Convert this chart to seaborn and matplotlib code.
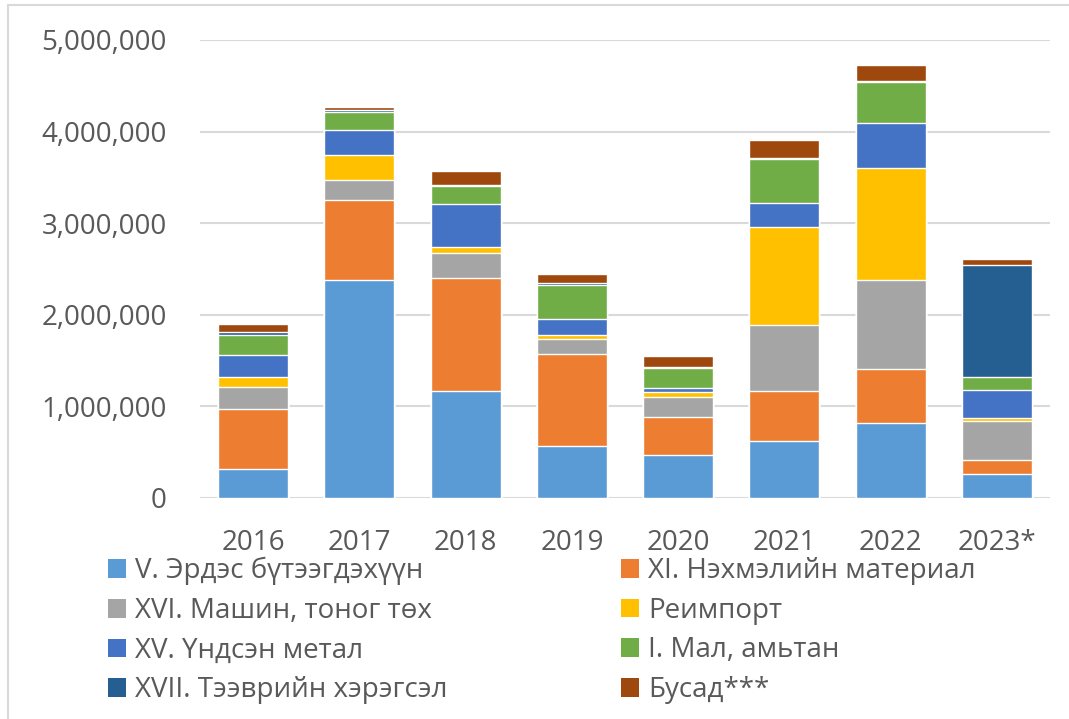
import numpy as np
import pandas as pd
import seaborn as sns
import matplotlib.pyplot as plt
from matplotlib.patches import Patch
from matplotlib.lines import Line2D
from matplotlib.ticker import FuncFormatter

years = ['2016', '2017', '2018', '2019', '2020', '2021', '2022', '2023*']

# бүлэг тус бүрийн импорт (мян. ам.доллар)
erdes = [316000, 2385000, 1167000, 567000, 469000, 625000, 818000, 258000]
nekhmel = [655000, 870000, 1233000, 1008000, 418000, 546000, 589000, 157000]
mashin = [240000, 221000, 276000, 156000, 211000, 713000, 978000, 429000]
reimport = [109000, 266000, 62000, 51000, 58000, 1076000, 1219000, 32000]
metal = [240000, 280000, 473000, 171000, 40000, 265000, 491000, 306000]
mal = [222000, 196000, 196000, 374000, 222000, 473000, 447000, 138000]
teever = [29000, 18000, 15000, 18000, 15000, 15000, 11000, 1222000]
busad = [84000, 29000, 153000, 99000, 116000, 200000, 171000, 65000]

names = ['V. Эрдэс бүтээгдэхүүн', 'XI. Нэхмэлийн материал', 'XVI. Машин, тоног төх',
         'Реимпорт', 'XV. Үндсэн метал', 'I. Мал, амьтан',
         'XVII. Тээврийн хэрэгсэл', 'Бусад***']
colors = ['#5B9BD5', '#ED7D31', '#A5A5A5', '#FFC000', '#4472C4', '#70AD47',
          '#255E91', '#9E480E']

tabela = pd.DataFrame(dict(zip(names, [erdes, nekhmel, mashin, reimport, metal,
                                       mal, teever, busad])), index=years)
acumulado = tabela.cumsum(axis=1)

sns.set_style('white')
plt.rcParams['font.family'] = ['Open Sans', 'DejaVu Sans']
cinza = '#595959'

fig = plt.figure(figsize=(10.69, 7.19), dpi=100)
ax = fig.add_axes([200 / 1069, 1 - 498 / 719, 850 / 1069, 458 / 719])

# barras empilhadas: do total para baixo, cada uma por cima da anterior
for nome, cor in reversed(list(zip(names, colors))):
    sns.barplot(x=years, y=acumulado[nome].values, color=cor, saturation=1,
                width=0.66, errorbar=None, ax=ax, zorder=3)

ax.set_xlim(-0.5, 7.5)
ax.set_ylim(0, 5000000)
ax.set_yticks(np.arange(0, 5000001, 1000000))
ax.yaxis.set_major_formatter(FuncFormatter(lambda v, p: f'{int(v):,}'))
ax.grid(axis='y', color='#D9D9D9', lw=1.5, zorder=0)
ax.set_axisbelow(True)
ax.set_xlabel('')
ax.set_ylabel('')
sns.despine(ax=ax, left=True, bottom=True)
ax.tick_params(axis='both', length=0, labelsize=20, labelcolor=cinza)
ax.tick_params(axis='y', pad=24)
ax.tick_params(axis='x', pad=22)

handles = [Patch(facecolor=c, edgecolor='none') for c in colors]
left_idx = [0, 2, 4, 6]
right_idx = [1, 3, 5, 7]
for idx, x0 in [(left_idx, 108), (right_idx, 621)]:
    leg = fig.legend([handles[i] for i in idx], [names[i] for i in idx],
                     loc='upper left', bbox_to_anchor=(x0 / 1069, 1 - 557 / 719),
                     frameon=False, fontsize=20, handlelength=0.65,
                     handleheight=0.65, handletextpad=0.33, labelspacing=0.42,
                     borderpad=0, borderaxespad=0)
    for t in leg.get_texts():
        t.set_color(cinza)

# moldura cinza
fig.add_artist(Line2D([8 / 1069, 8 / 1069], [0, 1 - 5 / 719], color='#D9D9D9', lw=1.5))
fig.add_artist(Line2D([8 / 1069, 1], [1 - 5 / 719, 1 - 5 / 719], color='#D9D9D9', lw=1.5))

fig.savefig('out.png', dpi=100)
